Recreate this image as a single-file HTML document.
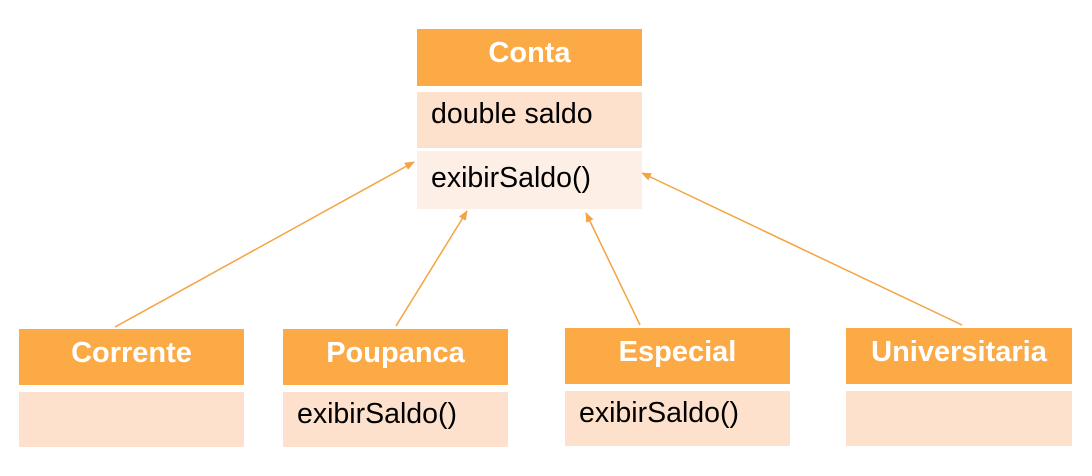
<!DOCTYPE html>
<html><head><style>
body{margin:0;width:1092px;height:476px;background:#fff;position:relative;font-family:"Liberation Sans",sans-serif;overflow:hidden}
.b{position:absolute}
.h{background:#FBAA45;color:#fff;font-weight:bold;font-size:29px;text-align:center;box-sizing:border-box}
.r1{background:#FDE1CC;font-size:28.5px;color:#000;box-sizing:border-box;padding-left:14px}
.r2{background:#FEEFE6;font-size:28.5px;color:#000;box-sizing:border-box;padding-left:14px}
</style></head><body>
<svg class="b" style="left:0;top:0" width="1092" height="476">
<defs><marker id="a" markerWidth="10" markerHeight="8" refX="9" refY="4" orient="auto" markerUnits="userSpaceOnUse"><path d="M0,0 L10,4 L0,8 z" fill="#F4A340"/></marker></defs>
<g stroke="#F4A340" stroke-width="1.5" fill="none">
<line x1="115" y1="327" x2="414" y2="162" marker-end="url(#a)"/>
<line x1="396" y1="326" x2="467" y2="211" marker-end="url(#a)"/>
<line x1="640" y1="325" x2="586" y2="213" marker-end="url(#a)"/>
<line x1="962" y1="325" x2="642" y2="173" marker-end="url(#a)"/>
</g></svg>
<div class="b h" style="left:417px;top:29px;width:225px;height:57px;line-height:48px">Conta</div>
<div class="b r1" style="left:417px;top:92px;width:225px;height:56px;line-height:44px">double saldo</div>
<div class="b r2" style="left:417px;top:151px;width:225px;height:58px;line-height:54px">exibirSaldo()</div>

<div class="b h" style="left:19px;top:329px;width:225px;height:56px;line-height:48px">Corrente</div>
<div class="b r1" style="left:19px;top:392px;width:225px;height:55px"></div>
<div class="b h" style="left:283px;top:329px;width:225px;height:56px;line-height:48px">Poupanca</div>
<div class="b r1" style="left:283px;top:392px;width:225px;height:55px;line-height:44px">exibirSaldo()</div>
<div class="b h" style="left:565px;top:328px;width:225px;height:56px;line-height:48px">Especial</div>
<div class="b r1" style="left:565px;top:391px;width:225px;height:55px;line-height:44px">exibirSaldo()</div>
<div class="b h" style="left:846px;top:328px;width:226px;height:56px;line-height:48px">Universitaria</div>
<div class="b r1" style="left:846px;top:391px;width:226px;height:55px"></div>
</body></html>
